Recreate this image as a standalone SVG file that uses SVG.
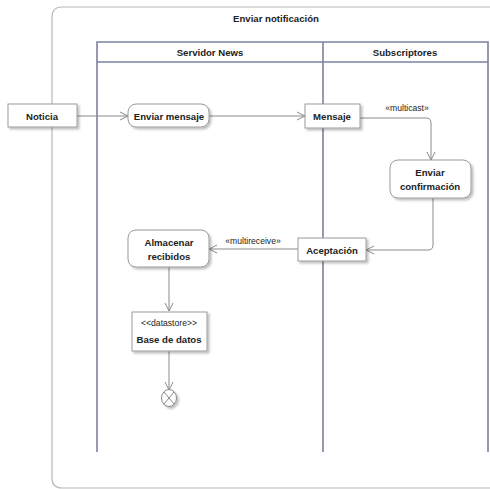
<svg xmlns="http://www.w3.org/2000/svg" width="490" height="489" viewBox="0 0 490 489">
<style>
text{font-family:"Liberation Sans",Arial,sans-serif;fill:#222;}
.b{font-weight:bold;font-size:9.6px;}
.s{font-size:8.6px;}
.node{fill:#fff;stroke:#9a9a9a;stroke-width:1;filter:url(#sh);}
.lane{fill:none;stroke:#7c82a0;stroke-width:1.6;}
.c{fill:none;stroke:#8a8a8a;stroke-width:1;}
</style>
<defs>
<filter id="sh" x="-20%" y="-20%" width="150%" height="160%">
<feDropShadow dx="2" dy="2" stdDeviation="1.2" flood-color="#000" flood-opacity="0.25"/>
</filter>
<marker id="ar" markerWidth="10" markerHeight="10" refX="9" refY="5" orient="auto" markerUnits="userSpaceOnUse">
<path d="M1,1 L9,5 L1,9" fill="none" stroke="#8a8a8a" stroke-width="1"/>
</marker>
</defs>
<g id="frame">
<path d="M492,7 H62 Q52,7 52,17 V478 Q52,488 62,488 H492" fill="#fff" stroke="#b8b8b8" stroke-width="1.2"/>
<text class="b" x="276" y="22" text-anchor="middle">Enviar notificación</text>
</g>
<g id="swimlanes">
<path class="lane" d="M97,452 V42 H488 V452 M97,62 H488 M323,42 V452"/>
<text class="b" x="210" y="55.5" text-anchor="middle">Servidor News</text>
<text class="b" x="405" y="55.5" text-anchor="middle">Subscriptores</text>
</g>
<g id="connectors">
<path class="c" d="M77,116 H128" marker-end="url(#ar)"/>
<path class="c" d="M209,116 H305" marker-end="url(#ar)"/>
<path class="c" d="M360,118 H426 Q431,118 431,123 V160" marker-end="url(#ar)"/>
<text class="s" x="407" y="111" text-anchor="middle">«multicast»</text>
<path class="c" d="M433,198 V245 Q433,250 428,250 H366" marker-end="url(#ar)"/>
<path class="c" d="M298,249 H209" marker-end="url(#ar)"/>
<text class="s" x="253" y="244" text-anchor="middle">«multireceive»</text>
<path class="c" d="M169,267 V311" marker-end="url(#ar)"/>
<path class="c" d="M169,351 V390" marker-end="url(#ar)"/>
</g>
<g id="noticia">
<rect class="node" x="8" y="104" width="69" height="23"/>
<text class="b" x="42" y="119.5" text-anchor="middle">Noticia</text>
</g>
<g id="enviar-mensaje">
<rect class="node" x="128" y="104" width="81" height="23" rx="8"/>
<text class="b" x="169" y="119.5" text-anchor="middle">Enviar mensaje</text>
</g>
<g id="mensaje">
<rect class="node" x="305" y="104" width="55" height="24"/>
<text class="b" x="332" y="119.5" text-anchor="middle">Mensaje</text>
</g>
<g id="enviar-confirmacion">
<rect class="node" x="390" y="160" width="81" height="38" rx="8"/>
<text class="b" x="430" y="176" text-anchor="middle">Enviar</text>
<text class="b" x="430" y="190" text-anchor="middle">confirmación</text>
</g>
<g id="aceptacion">
<rect class="node" x="298" y="238" width="68" height="23"/>
<text class="b" x="332" y="253.5" text-anchor="middle">Aceptación</text>
</g>
<g id="almacenar">
<rect class="node" x="128" y="230" width="81" height="37" rx="8"/>
<text class="b" x="169" y="246" text-anchor="middle">Almacenar</text>
<text class="b" x="169" y="260" text-anchor="middle">recibidos</text>
</g>
<g id="base-datos">
<rect class="node" x="132" y="312" width="75" height="39"/>
<text class="s" x="169" y="326" text-anchor="middle">&lt;&lt;datastore&gt;&gt;</text>
<text class="b" x="169" y="343" text-anchor="middle">Base de datos</text>
</g>
<g id="final">
<ellipse cx="169" cy="398" rx="7.5" ry="8.5" fill="#fff" stroke="#8a8a8a" stroke-width="1" filter="url(#sh)"/>
<path d="M164,392 L174,404 M174,392 L164,404" stroke="#8a8a8a" stroke-width="1"/>
</g>
</svg>
